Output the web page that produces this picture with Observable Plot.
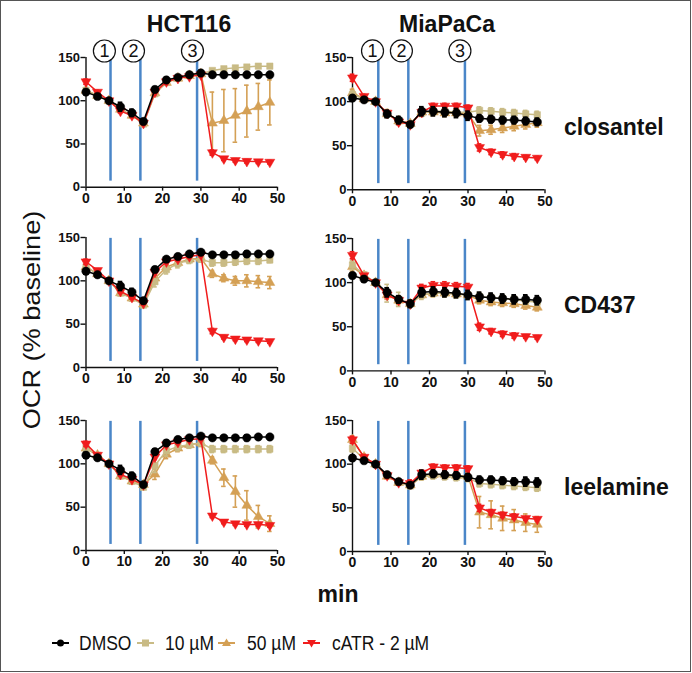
<!DOCTYPE html>
<html><head><meta charset="utf-8">
<script src="https://cdn.jsdelivr.net/npm/d3@7"></script>
<script src="https://cdn.jsdelivr.net/npm/@observablehq/plot@0.6"></script>
<style>
body{margin:0;background:#fff;}
#fig{position:relative;width:692px;height:673px;overflow:hidden;font-family:"Liberation Sans",Arial,sans-serif;background:#fff;}
#frame{position:absolute;left:0;top:0;width:691px;height:672px;box-sizing:border-box;border:1.5px solid #555;}
</style></head><body><div id="fig"><div id="frame"></div></div>
<script>
// ---- data ----
const times = [0,3,6,9,12,15,18,21,24,27,30,33,36,39,42,45,48];
const cellLines = ["HCT116","MiaPaCa"];
const drugs = ["closantel","CD437","leelamine"];
const seriesNames = ["DMSO","10 µM","50 µM","cATR - 2 µM"];
const injLeft = [6.4,14.2,29.0];
const injRight = [6.7,14.5,29.2];
const circLeft = [4.8,12.4,27.8];
const circRight = [5.2,12.7,27.9];
const circLabels = ["1","2","3"];
const injSpan = [7,149];
const circY = 157.5;
const yTicks = [0,50,100,150];
const xTicks = [0,10,20,30,40,50];

// HCT116 closantel
const hc_dmso = [110,105,100,93,86,76,113,124,127,130,132,130,130,130,130,130,130];
const hc_10   = [112,106,100,90,83,73,108,121,126,130,131,135,137,138,139,140,140];
const hc_50   = [112,106,100,90,83,74,109,121,126,129,131,74,77,83,88,93,98];
const hc_catr = [122,110,100,88,83,74,110,122,126,128,130,40,33,31,30,29.5,29];
const hc_dmso_e = [3,2,2,5,4,3,3,3,2,2,3,2,2,2,2,2,2];
const hc_10_e   = [2,2,1,3,3,2,3,3,3,3,2,2,2,2,2,2,2];
const hc_50_e   = [3,2,1,3,3,2,3,3,3,3,3,36,36,31,30,27,26];
const hc_catr_e = [3,2,1,2,2,2,3,3,2,2,2,3,2,2,2,2,2];
// MiaPaCa closantel
const mc_dmso = [104,102,100,86,79,74,89,89,88,87,84,81,80,79,79,78,77];
const mc_10   = [108,103,100,87,78,75,87,89,89,88,88,90,89,88,87,86,85];
const mc_50   = [110,103,100,86,78,75,88,88,87,87,86,67,68,70,72,74,76];
const mc_catr = [127,106,100,87,77,74,88,95,95,95,93,48,43,40,38,37,36];
const mc_dmso_e = [3,2,1,4,4,3,5,5,5,5,5,4,4,4,4,4,4];
const mc_10_e   = [4,2,1,4,4,3,4,4,4,4,4,4,4,4,4,4,4];
const mc_50_e   = [4,2,1,4,4,3,4,4,4,4,4,6,5,5,5,5,5];
const mc_catr_e = [4,2,1,3,3,3,3,3,3,3,3,4,3,3,3,2,2];
// HCT116 CD437
const hd_dmso = [111,107,100,94,87,77,113,125,128,131,133,130,130,130,131,131,131];
const hd_10   = [116,108,100,86,80,72,99,113,120,124,125,121,121,122,123,123,124];
const hd_50   = [116,108,100,86,80,73,103,116,121,125,126,108,103,100,100,99,98];
const hd_catr = [122,112,100,88,81,74,110,122,125,128,130,42,35,33,32,31,30];
const hd_dmso_e = [3,2,1,5,4,3,3,2,2,2,2,2,2,3,3,2,2];
const hd_10_e   = [3,2,1,3,3,3,6,5,5,4,3,4,4,4,4,4,3];
const hd_50_e   = [3,2,1,3,3,3,5,5,4,4,4,4,4,5,7,7,7];
const hd_catr_e = [3,2,1,2,2,2,3,2,2,2,2,3,2,2,2,2,2];
// MiaPaCa CD437
const md_dmso = [108,104,100,89,81,76,89,90,89,88,86,84,83,82,81,81,80];
const md_10   = [120,109,100,88,81,76,86,88,88,87,86,84,83,82,81,79,78];
const md_50   = [118,108,100,86,80,76,86,88,88,87,86,80,78,77,76,74,72];
const md_catr = [131,108,100,86,80,76,94,97,97,96,95,50,45,42,40,39,38];
const md_dmso_e = [3,3,1,5,4,4,5,5,5,5,5,5,5,5,5,5,5];
const md_10_e   = [5,3,1,10,8,4,5,4,4,4,4,5,4,4,4,4,4];
const md_50_e   = [5,3,1,5,5,4,4,4,4,4,4,4,4,4,4,4,4];
const md_catr_e = [4,2,1,3,3,3,4,4,4,4,4,4,3,3,3,2,2];
// HCT116 leelamine
const hl_dmso = [110,107,100,93,86,76,114,124,128,130,132,130,130,130,130,131,131];
const hl_10   = [118,110,100,86,80,73,98,115,120,122,124,117,117,117,117,117,117];
const hl_50   = [118,110,100,86,80,76,88,111,118,122,124,104,84,68,52,39,31];
const hl_catr = [123,110,100,88,82,76,108,122,125,128,129,40,33,31,30,30,29];
const hl_dmso_e = [3,2,1,5,4,3,3,3,2,2,2,2,2,2,3,2,2];
const hl_10_e   = [3,2,1,3,3,3,8,6,5,4,3,4,4,4,4,4,4];
const hl_50_e   = [3,2,1,3,3,3,6,5,4,4,4,4,10,18,17,13,9];
const hl_catr_e = [3,2,1,2,2,2,3,2,2,2,2,2,2,2,2,2,2];
// MiaPaCa leelamine
const ml_dmso = [107,104,100,88,80,76,88,89,88,87,85,82,82,81,80,80,79];
const ml_10   = [118,106,100,87,79,75,86,87,86,85,84,78,77,76,75,74,73];
const ml_50   = [128,108,100,86,79,76,86,88,88,87,86,45,42,38,36,33,31];
const ml_catr = [128,108,100,87,79,78,90,97,96,96,95,50,45,42,40,38,37];
const ml_dmso_e = [3,2,1,3,3,3,5,4,4,4,4,4,4,4,4,5,5];
const ml_10_e   = [4,3,1,3,3,3,4,4,4,4,4,4,4,4,4,4,4];
const ml_50_e   = [4,3,1,3,3,3,4,4,4,4,4,18,16,14,12,10,9];
const ml_catr_e = [4,3,1,3,3,4,3,3,3,3,3,4,3,3,3,2,2];

// ---- styles ----
const COLORS = {"DMSO":"#000000","10 µM":"#c9bb85","50 µM":"#d4a055","cATR - 2 µM":"#f01c1c"};
const BLUE = "#4a86c8";
const FONT = '"Liberation Sans", Arial, sans-serif';

const panels = [
  {col:0,row:0,vals:[hc_dmso,hc_10,hc_50,hc_catr],errs:[hc_dmso_e,hc_10_e,hc_50_e,hc_catr_e]},
  {col:1,row:0,vals:[mc_dmso,mc_10,mc_50,mc_catr],errs:[mc_dmso_e,mc_10_e,mc_50_e,mc_catr_e]},
  {col:0,row:1,vals:[hd_dmso,hd_10,hd_50,hd_catr],errs:[hd_dmso_e,hd_10_e,hd_50_e,hd_catr_e]},
  {col:1,row:1,vals:[md_dmso,md_10,md_50,md_catr],errs:[md_dmso_e,md_10_e,md_50_e,md_catr_e]},
  {col:0,row:2,vals:[hl_dmso,hl_10,hl_50,hl_catr],errs:[hl_dmso_e,hl_10_e,hl_50_e,hl_catr_e]},
  {col:1,row:2,vals:[ml_dmso,ml_10,ml_50,ml_catr],errs:[ml_dmso_e,ml_10_e,ml_50_e,ml_catr_e]},
];

const colGeo = [{left:40, ml:45.5, w:252}, {left:305.7, ml:46, w:253.5}];
const rowGeo = [
  [[57,186.7],[236.7,366.7],[420,550]],
  [[56.7,189],[238.3,370.7],[420,551]]
];

const fig = document.getElementById("fig");
const drawOrder = [2,1,3,0];
const symbolOf = ["circle","square","triangle","triangle"];
const rotateOf = [0,0,0,180];
const rOf = [4.2,3.6,3.7,3.7];

for (const p of panels) {
  const cg = colGeo[p.col];
  const [t150, b0] = rowGeo[p.col][p.row];
  const mt = 27, mb = 30;
  const inj = p.col === 0 ? injLeft : injRight;
  const circ = p.col === 0 ? circLeft : circRight;
  const marks = [];
  marks.push(Plot.ruleX(inj, {x: d => d, y1: injSpan[0], y2: injSpan[1], stroke: BLUE, strokeWidth: 2.5}));
  marks.push(Plot.ruleX([0], {y1: 0, y2: 150, stroke: "#111", strokeWidth: 1.4}));
  marks.push(Plot.ruleY([0], {x1: 0, x2: 50, stroke: "#111", strokeWidth: 1.4}));
  marks.push(Plot.axisY({ticks: yTicks, tickSize: 5, tickPadding: 1, fontSize: 13, fontWeight: "bold", label: null, strokeWidth: 1.4, fontFamily: FONT}));
  marks.push(Plot.axisX({ticks: xTicks, tickSize: 4, tickPadding: 2, fontSize: 14, fontWeight: "bold", label: null, strokeWidth: 1.4, fontFamily: FONT}));
  for (const si of drawOrder) {
    const name = seriesNames[si];
    const c = COLORS[name];
    const rows = times.map((t, i) => ({t, v: p.vals[si][i], e: p.errs[si][i]}));
    const sw = si === 0 ? 2 : 1.6;
    marks.push(Plot.line(rows, {x: "t", y: "v", stroke: c, strokeWidth: 1.5}));
    marks.push(Plot.ruleX(rows, {x: "t", y1: d => d.v - d.e, y2: d => d.v + d.e, stroke: c, strokeWidth: sw}));
    marks.push(Plot.ruleY(rows, {y: d => d.v + d.e, x1: d => d.t - 0.6, x2: d => d.t + 0.6, stroke: c, strokeWidth: sw}));
    marks.push(Plot.ruleY(rows, {y: d => d.v - d.e, x1: d => d.t - 0.6, x2: d => d.t + 0.6, stroke: c, strokeWidth: sw}));
    marks.push(Plot.dot(rows, {x: "t", y: "v", symbol: symbolOf[si], rotate: rotateOf[si], r: rOf[si], fill: c, stroke: c, strokeWidth: 0.5}));
  }
  if (p.row === 0) {
    marks.push(Plot.dot(circ, {x: d => d, y: circY, r: 11, stroke: "#111", fill: "white", strokeWidth: 1.2}));
    marks.push(Plot.text(circ, {x: d => d, y: circY, text: (d, i) => circLabels[i], fontSize: 18, fill: "#111", fontFamily: FONT, dy: 0.5}));
  }
  const el = Plot.plot({
    width: cg.w,
    height: mt + (b0 - t150) + mb,
    marginLeft: cg.ml, marginRight: cg.w - cg.ml - (p.col === 0 ? 191.5 : 192.5),
    marginTop: mt, marginBottom: mb,
    x: {domain: [0, 50]},
    y: {domain: [0, 150]},
    style: {background: "transparent", overflow: "visible", color: "#111", fontFamily: FONT},
    marks
  });
  el.style.position = "absolute";
  el.style.left = cg.left + "px";
  el.style.top = (t150 - mt) + "px";
  fig.appendChild(el);
}

// ---- overlay texts and legend ----
const svg = d3.select(fig).append("svg")
  .attr("width", 692).attr("height", 673)
  .style("position", "absolute").style("left", "0px").style("top", "0px")
  .style("pointer-events", "none")
  .attr("font-family", FONT);

const titleX = [189, 447];
cellLines.forEach((c, i) => svg.append("text").attr("x", titleX[i]).attr("y", 32)
  .attr("text-anchor", "middle").attr("font-size", 23).attr("font-weight", "bold").attr("fill", "#111").text(c));
const drugY = [135, 313, 495];
drugs.forEach((d, i) => svg.append("text").attr("x", 564).attr("y", drugY[i])
  .attr("font-size", 23).attr("font-weight", "bold").attr("fill", "#111").text(d));

svg.append("text").attr("transform", "translate(40,320) rotate(-90) scale(1.18,1)")
  .attr("text-anchor", "middle").attr("font-size", 23).attr("fill", "#111").text("OCR (% baseline)");
svg.append("text").attr("x", 338).attr("y", 602).attr("text-anchor", "middle")
  .attr("font-size", 23).attr("font-weight", "bold").attr("fill", "#111").text("min");

const legX = [52, 137, 218, 303];
const legTextX = [79, 165, 247, 332];
const ly = 643;
seriesNames.forEach((n, i) => {
  const c = COLORS[n];
  const g = svg.append("g");
  g.append("line").attr("x1", legX[i]).attr("x2", legX[i] + 17).attr("y1", ly).attr("y2", ly)
    .attr("stroke", c).attr("stroke-width", 2);
  const cx = legX[i] + 8.5;
  if (i === 0) g.append("circle").attr("cx", cx).attr("cy", ly).attr("r", 3.5).attr("fill", c);
  if (i === 1) g.append("rect").attr("x", cx - 3.5).attr("y", ly - 3.5).attr("width", 7).attr("height", 7).attr("fill", c);
  if (i === 2) g.append("path").attr("d", `M${cx},${ly-4.5}L${cx+4.5},${ly+3}L${cx-4.5},${ly+3}Z`).attr("fill", c);
  if (i === 3) g.append("path").attr("d", `M${cx},${ly+4.5}L${cx+4.5},${ly-3}L${cx-4.5},${ly-3}Z`).attr("fill", c);
  svg.append("text").attr("transform", `translate(${legTextX[i]},${ly + 7}) scale(1,1.15)`)
    .attr("font-size", 17.5).attr("fill", "#111").text(n);
});
</script></body></html>
